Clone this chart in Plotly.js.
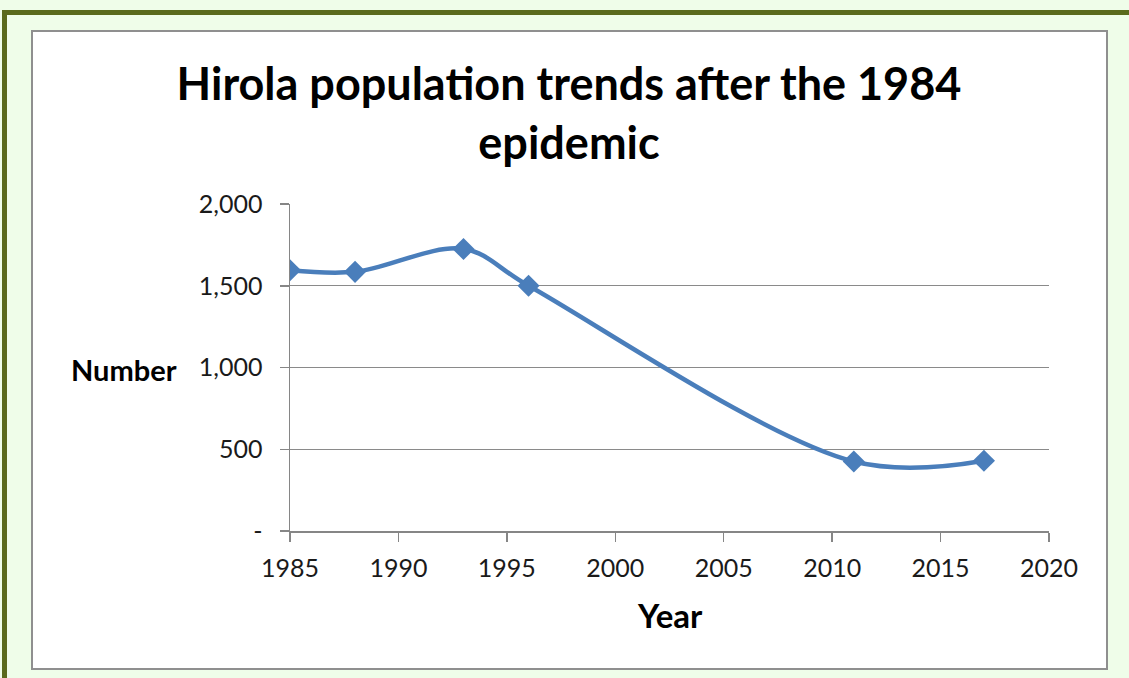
<!DOCTYPE html>
<html>
<head>
<meta charset="utf-8">
<script src="https://cdn.plot.ly/plotly-3.0.1.min.js"></script>
<style>
  html, body { margin: 0; padding: 0; }
  body { width: 1129px; height: 678px; background: #effde9; position: relative; overflow: hidden; }
  #frame { position: absolute; left: 2px; top: 10px; width: 1127px; height: 668px;
           border-left: 5px solid #5a6a1c; border-top: 5px solid #5a6a1c; box-sizing: border-box; }
  #box { position: absolute; left: 31px; top: 30px; width: 1077px; height: 640px;
         background: #ffffff; border: 2px solid #8f8f8f; box-sizing: border-box; }
  #chart { position: absolute; left: 0; top: 0; width: 1129px; height: 678px; }
</style>
</head>
<body>
<div id="frame"></div>
<div id="box"></div>
<div id="chart"></div>
<script>
const years = [1985, 1988, 1993, 1996, 2011, 2017];
const population = [1595, 1585, 1725, 1500, 425, 430];
const yTickValues = [0, 500, 1000, 1500, 2000];
const yTickLabels = ["-", "500", "1,000", "1,500", "2,000"];
const xTickValues = [1985, 1990, 1995, 2000, 2005, 2010, 2015, 2020];
const chartTitle = "Hirola population trends after the 1984<br>epidemic";
const xTitle = "Year";
const yTitle = "Number";

const FONT = "Lato, 'Open Sans', sans-serif";

const trace = {
  x: years,
  y: population,
  type: "scatter",
  mode: "lines+markers",
  line: { color: "#4a7ebb", width: 4.5, shape: "spline", smoothing: 1 },
  marker: { symbol: "diamond", size: 17, color: "#4a7ebb" },
  hoverinfo: "skip"
};

const layout = {
  width: 1129,
  height: 678,
  paper_bgcolor: "rgba(0,0,0,0)",
  plot_bgcolor: "rgba(0,0,0,0)",
  showlegend: false,
  margin: { l: 290, r: 80, t: 204, b: 147, pad: 0 },
  font: { family: FONT, color: "#222222" },
  title: {
    text: chartTitle,
    font: { family: FONT, size: 45, color: "#000000", weight: "bold" },
    x: 0.504, xanchor: "center",
    y: 0.852, yanchor: "middle"
  },
  xaxis: {
    range: [1985, 2020],
    tickvals: xTickValues,
    ticktext: xTickValues.map(String),
    ticks: "outside", ticklen: 9, tickwidth: 1.5, tickcolor: "#868686",
    showline: true, linecolor: "#868686", linewidth: 1.5,
    showgrid: false, zeroline: false,
    tickfont: { family: FONT, size: 25, color: "#1a1a1a" },
    ticklabelstandoff: 5,
    fixedrange: true
  },
  yaxis: {
    range: [0, 2000],
    tickvals: yTickValues,
    ticktext: yTickLabels,
    ticks: "outside", ticklen: 9, tickwidth: 1.5, tickcolor: "#868686",
    showline: true, linecolor: "#868686", linewidth: 1.5,
    showgrid: true, gridcolor: "#8a8a8a", gridwidth: 1.2,
    zeroline: false,
    tickfont: { family: FONT, size: 25, color: "#1a1a1a" },
    ticklabelstandoff: 12,
    fixedrange: true
  },
  annotations: [
    {
      text: xTitle, xref: "paper", yref: "paper",
      x: 0.5007, y: -0.257, xanchor: "center", yanchor: "middle",
      showarrow: false,
      font: { family: FONT, size: 33, color: "#000000", weight: "bold" }
    },
    {
      text: yTitle, xref: "paper", yref: "paper",
      x: -0.2187, y: 0.495, xanchor: "center", yanchor: "middle",
      showarrow: false,
      font: { family: FONT, size: 29, color: "#000000", weight: "bold" }
    }
  ]
};

Plotly.newPlot("chart", [trace], layout, { staticPlot: true, displayModeBar: false });
</script>
</body>
</html>
